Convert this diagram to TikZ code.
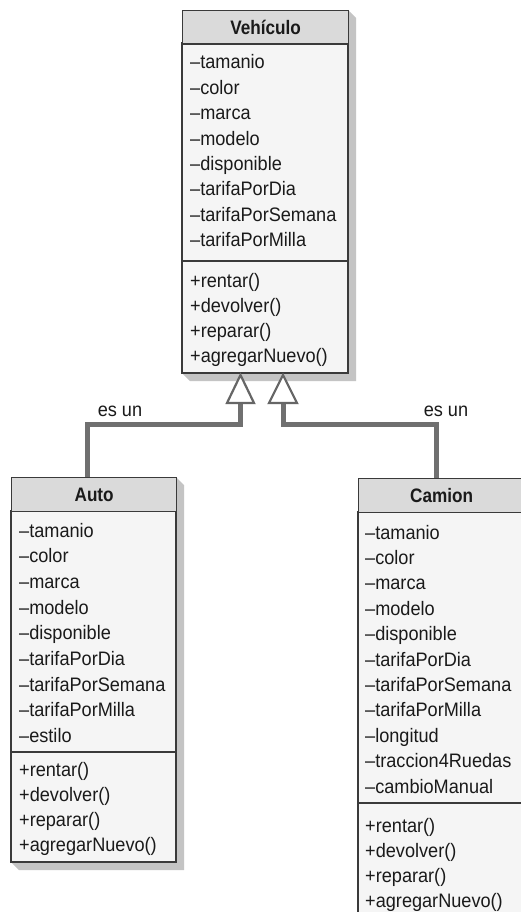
\documentclass[tikz,border=0pt]{standalone}
\usepackage{fontspec}
\setmainfont{Liberation Sans}[FakeStretch=0.93]
\newfontfamily\hdrfont{Liberation Sans}[FakeStretch=0.88]
\usetikzlibrary{calc}
\definecolor{textc}{HTML}{1A1A1A}
\definecolor{borderc}{HTML}{3A3A3A}
\definecolor{hdrc}{HTML}{DADADA}
\definecolor{bodyc}{HTML}{F5F5F5}
\definecolor{shadowc}{HTML}{C4C4C4}
\definecolor{connc}{HTML}{707070}
\definecolor{tric}{HTML}{666666}
\tikzset{
  txt/.style={anchor=base west, inner sep=0pt, text=textc, font=\fontsize{19.5}{23}\selectfont},
  lbl/.style={anchor=base, inner sep=0pt, text=textc, font=\fontsize{19.5}{23}\selectfont},
  hdr/.style={draw=borderc, line width=1.3pt, fill=hdrc, inner sep=0pt, text=textc,
    font=\hdrfont\bfseries\fontsize{19.5}{23}\selectfont, anchor=north west,
    text height=15pt, text depth=0pt, minimum height=33.5pt},
  compbox/.style={draw=borderc, line width=1.3pt, fill=bodyc},
  sepline/.style={draw=borderc, line width=1.3pt},
  shade/.style={fill=shadowc},
  conn/.style={draw=connc, line width=5pt, line join=miter},
  gen/.style={draw=tric, line width=2.2pt, fill=white, line join=miter}
}
\begin{document}
\begin{tikzpicture}[x=1pt, y=-1pt]
\useasboundingbox (0,0) rectangle (521,912);
\fill[white] (0,0) rectangle (521,912);
\clip (0,0) rectangle (521,912);

% ---------- Vehiculo ----------
\fill[shade] (348,10) -- (356,18) -- (356,381) -- (190,381) -- (182,373) -- cycle;
\draw[compbox] (182,43) rectangle (348,373);
\draw[sepline] (182,261) -- (348,261);
\node[hdr, minimum width=166pt] (veh) at (182,10) {Vehículo};
\foreach \t [count=\i from 0] in {\textendash tamanio,\textendash color,\textendash marca,\textendash modelo,\textendash disponible,\textendash tarifaPorDia,\textendash tarifaPorSemana,\textendash tarifaPorMilla}
  \node[txt] (veh-a\i) at (190,{69+\i*25.4}) {\t};
\foreach \t [count=\i from 0] in {+rentar(),+devolver(),+reparar(),+agregarNuevo()}
  \node[txt] (veh-m\i) at (190,{287+\i*25.2}) {\t};

% ---------- Auto ----------
\fill[shade] (176,477) -- (184,485) -- (184,870) -- (19,870) -- (11,862) -- cycle;
\draw[compbox] (11,511) rectangle (176,862);
\draw[sepline] (11,752) -- (176,752);
\node[hdr, minimum width=165pt] (auto) at (11,477) {Auto};
\foreach \t [count=\i from 0] in {\textendash tamanio,\textendash color,\textendash marca,\textendash modelo,\textendash disponible,\textendash tarifaPorDia,\textendash tarifaPorSemana,\textendash tarifaPorMilla,\textendash estilo}
  \node[txt] (auto-a\i) at (19,{537+\i*25.7}) {\t};
\foreach \t [count=\i from 0] in {+rentar(),+devolver(),+reparar(),+agregarNuevo()}
  \node[txt] (auto-m\i) at (19,{776+\i*25}) {\t};

% ---------- Camion ----------
\fill[shade] (524,478) -- (532,486) -- (532,926) -- (366,926) -- (358,918) -- cycle;
\draw[compbox] (358,512) rectangle (524,918);
\draw[sepline] (358,803) -- (524,803);
\node[hdr, minimum width=166pt] (cam) at (358,478) {Camion};
\foreach \t [count=\i from 0] in {\textendash tamanio,\textendash color,\textendash marca,\textendash modelo,\textendash disponible,\textendash tarifaPorDia,\textendash tarifaPorSemana,\textendash tarifaPorMilla,\textendash longitud,\textendash traccion4Ruedas,\textendash cambioManual}
  \node[txt] (cam-a\i) at (365,{539+\i*25.4}) {\t};
\foreach \t [count=\i from 0] in {+rentar(),+devolver(),+reparar(),+agregarNuevo()}
  \node[txt] (cam-m\i) at (365,{832+\i*25}) {\t};

% ---------- generalization connectors ----------
\coordinate (tLa) at (240.5,375);
\coordinate (tLb) at (240.5,403);
\coordinate (tRa) at (283,375);
\coordinate (tRb) at (283,403);
\coordinate (autoIn) at ($(auto.north west)+(76.5,0)$);
\coordinate (camIn) at ($(cam.north west)+(78,0)$);
\draw[conn] (tLb) -- ++(0,21) -| (autoIn);
\draw[conn] (tRb) -- ++(0,21) -| (camIn);
\draw[gen] (tLa) -- ($(tLb)+(-13.5,0)$) -- ($(tLb)+(13.5,0)$) -- cycle;
\draw[gen] (tRa) -- ($(tRb)+(-14,0)$) -- ($(tRb)+(14,0)$) -- cycle;

\node[lbl] (lblL) at (120,416) {es un};
\node[lbl] (lblR) at (446,416) {es un};
\end{tikzpicture}
\end{document}
